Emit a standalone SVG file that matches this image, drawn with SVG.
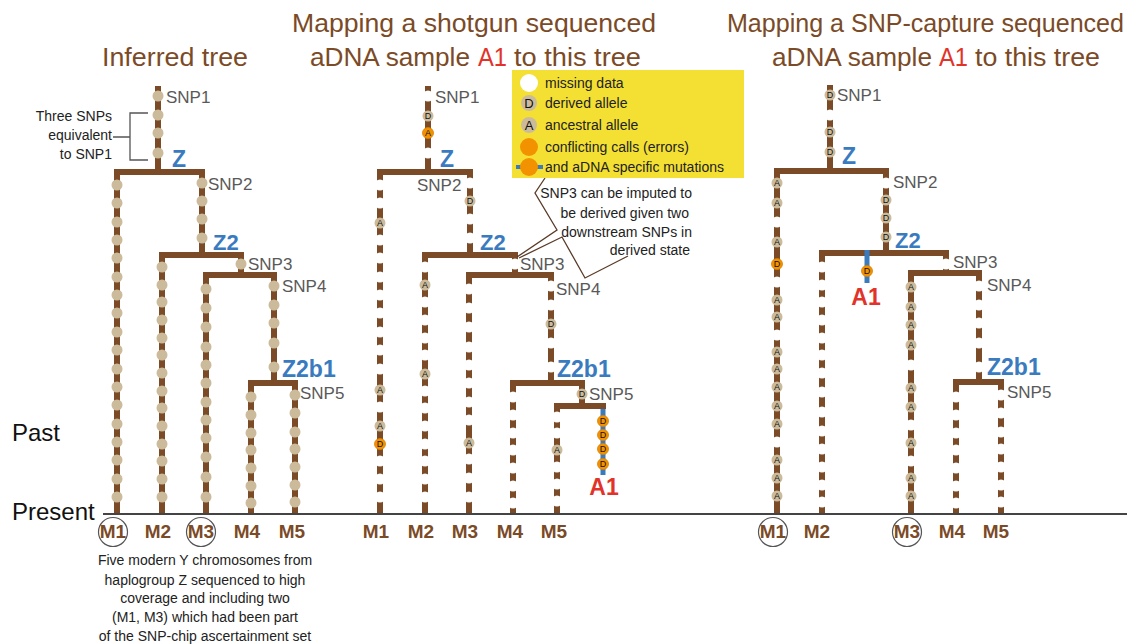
<svg xmlns="http://www.w3.org/2000/svg" width="1144" height="644" viewBox="0 0 1144 644">
<style>
.br{fill:none;stroke:#7b4a26;stroke-width:6}
.t{fill:#cbbb9b}
.w{fill:#fff}
.o{fill:#f39200;stroke:#dc7f00;stroke-width:0.8}
.l{font-family:"Liberation Sans",Arial,sans-serif;font-size:9px;fill:#111;text-anchor:middle}
.snp{font-family:"Liberation Sans",Arial,sans-serif;font-size:17px;fill:#595959}
.hg{font-family:"Liberation Sans",Arial,sans-serif;font-weight:bold;fill:#3a7bbf}
.title{font-family:"Liberation Sans",Arial,sans-serif;font-size:26px;fill:#7b4a26}
.red{fill:#e2332a}
.m{font-family:"Liberation Sans",Arial,sans-serif;font-weight:bold;font-size:19px;fill:#7b4a26;text-anchor:middle}
.note{font-family:"Liberation Sans",Arial,sans-serif;font-size:14px;fill:#222}
.a1{font-family:"Liberation Sans",Arial,sans-serif;font-weight:bold;font-size:23px;fill:#e2332a;text-anchor:middle}
.ring{fill:none;stroke:#555;stroke-width:1.2}
.call{fill:none;stroke:#5a3b28;stroke-width:1.3}
</style>

<g id="titles">
<text class="title" x="102" y="66" textLength="146" lengthAdjust="spacingAndGlyphs">Inferred tree</text>
<text class="title" x="292" y="32" textLength="364" lengthAdjust="spacingAndGlyphs">Mapping a shotgun sequenced</text>
<text class="title" x="310" y="66" textLength="160" lengthAdjust="spacingAndGlyphs">aDNA sample</text>
<text class="title red" x="478" y="66" textLength="29" lengthAdjust="spacingAndGlyphs">A1</text>
<text class="title" x="514" y="66" textLength="127" lengthAdjust="spacingAndGlyphs">to this tree</text>
<text class="title" x="727" y="32" textLength="397" lengthAdjust="spacingAndGlyphs">Mapping a SNP-capture sequenced</text>
<text class="title" x="772" y="66" textLength="160" lengthAdjust="spacingAndGlyphs">aDNA sample</text>
<text class="title red" x="939" y="66" textLength="29" lengthAdjust="spacingAndGlyphs">A1</text>
<text class="title" x="975" y="66" textLength="125" lengthAdjust="spacingAndGlyphs">to this tree</text>
</g>

<g id="connectors">
<path class="br" d="M158,86V172 M114,172H205 M117,172V514 M202,172V255 M159,255H244 M162,255V514 M241,255V275 M203,275H277 M206,275V514 M274,275V383 M248,383H298 M251,383V514 M295,383V514"/>
<path class="br" d="M428,86V172 M377,172H473 M380,172V514 M470,172V255 M422,255H518 M425,255V514 M515,255V275 M466,275H554 M469,275V514 M551,275V383 M510,383H585 M513,383V514 M582,383V406 M557,406V514"/>
<path class="br" d="M830,85V171 M774,171H889 M777,171V514 M886,171V253 M819,253H949 M822,253V514 M946,253V273 M908,273H982 M911,273V514 M979,273V382 M953,382H1004 M956,382V514 M1001,382V514"/>
<line x1="603" y1="406" x2="603" y2="475" stroke="#3a7bbf" stroke-width="5"/>
<line x1="867" y1="250" x2="867" y2="283" stroke="#3a7bbf" stroke-width="5"/>
<path class="br" d="M554,406H606"/>
<line x1="103" y1="514" x2="1127" y2="514" stroke="#444" stroke-width="2"/>
<path class="call" d="M545,178L535,193L557,230L517,257 M519,258L562,237L585,278L628,256"/>
<path d="M148,113H130V160H148 M113,137H130" fill="none" stroke="#555" stroke-width="1.3"/>
</g>

<g id="inferred-tree">
<g class="t">
<circle cx="158" cy="96" r="5.5"/><circle cx="158" cy="115" r="5.5"/><circle cx="158" cy="133" r="5.5"/><circle cx="158" cy="153" r="5.5"/>
<circle cx="117" cy="185" r="5.5"/><circle cx="117" cy="203" r="5.5"/><circle cx="117" cy="222" r="5.5"/><circle cx="117" cy="240" r="5.5"/><circle cx="117" cy="258" r="5.5"/><circle cx="117" cy="277" r="5.5"/><circle cx="117" cy="295" r="5.5"/><circle cx="117" cy="313" r="5.5"/><circle cx="117" cy="332" r="5.5"/><circle cx="117" cy="350" r="5.5"/><circle cx="117" cy="369" r="5.5"/><circle cx="117" cy="387" r="5.5"/><circle cx="117" cy="405" r="5.5"/><circle cx="117" cy="424" r="5.5"/><circle cx="117" cy="442" r="5.5"/><circle cx="117" cy="460" r="5.5"/><circle cx="117" cy="479" r="5.5"/><circle cx="117" cy="497" r="5.5"/>
<circle cx="202" cy="183" r="5.5"/><circle cx="202" cy="201" r="5.5"/><circle cx="202" cy="219" r="5.5"/><circle cx="202" cy="238" r="5.5"/>
<circle cx="162" cy="267" r="5.5"/><circle cx="162" cy="285" r="5.5"/><circle cx="162" cy="302" r="5.5"/><circle cx="162" cy="320" r="5.5"/><circle cx="162" cy="338" r="5.5"/><circle cx="162" cy="355" r="5.5"/><circle cx="162" cy="373" r="5.5"/><circle cx="162" cy="391" r="5.5"/><circle cx="162" cy="408" r="5.5"/><circle cx="162" cy="426" r="5.5"/><circle cx="162" cy="444" r="5.5"/><circle cx="162" cy="461" r="5.5"/><circle cx="162" cy="479" r="5.5"/><circle cx="162" cy="497" r="5.5"/>
<circle cx="241" cy="264" r="5.5"/>
<circle cx="206" cy="289" r="5.5"/><circle cx="206" cy="308" r="5.5"/><circle cx="206" cy="327" r="5.5"/><circle cx="206" cy="347" r="5.5"/><circle cx="206" cy="365" r="5.5"/><circle cx="206" cy="383" r="5.5"/><circle cx="206" cy="402" r="5.5"/><circle cx="206" cy="420" r="5.5"/><circle cx="206" cy="438" r="5.5"/><circle cx="206" cy="457" r="5.5"/><circle cx="206" cy="477" r="5.5"/><circle cx="206" cy="497" r="5.5"/>
<circle cx="274" cy="286" r="5.5"/><circle cx="274" cy="305" r="5.5"/><circle cx="274" cy="323" r="5.5"/><circle cx="274" cy="343" r="5.5"/><circle cx="274" cy="367" r="5.5"/>
<circle cx="251" cy="397" r="5.5"/><circle cx="251" cy="415" r="5.5"/><circle cx="251" cy="433" r="5.5"/><circle cx="251" cy="450" r="5.5"/><circle cx="251" cy="468" r="5.5"/><circle cx="251" cy="486" r="5.5"/><circle cx="251" cy="503" r="5.5"/>
<circle cx="295" cy="395" r="5.5"/><circle cx="295" cy="413" r="5.5"/><circle cx="295" cy="432" r="5.5"/><circle cx="295" cy="449" r="5.5"/><circle cx="295" cy="467" r="5.5"/><circle cx="295" cy="485" r="5.5"/><circle cx="295" cy="502" r="5.5"/>
</g>
<text class="snp" x="166" y="103">SNP1</text>
<text class="snp" x="208" y="190">SNP2</text>
<text class="snp" x="248" y="270">SNP3</text>
<text class="snp" x="282" y="292">SNP4</text>
<text class="snp" x="300" y="399">SNP5</text>
<text class="hg" x="172" y="167" font-size="23">Z</text>
<text class="hg" x="213" y="250" font-size="22">Z2</text>
<text class="hg" x="282" y="377" font-size="23">Z2b1</text>
<text class="note" font-size="13" text-anchor="end"><tspan x="112" y="121">Three SNPs</tspan><tspan x="112" y="140">equivalent</tspan><tspan x="112" y="159">to SNP1</tspan></text>
<text class="m" x="113" y="538">M1</text><text class="m" x="158" y="538">M2</text><text class="m" x="201" y="538">M3</text><text class="m" x="247" y="538">M4</text><text class="m" x="292" y="538">M5</text>
<circle class="ring" cx="113" cy="532" r="14.5"/><circle class="ring" cx="201" cy="532" r="14.5"/>
<text class="note" text-anchor="middle"><tspan x="205" y="565">Five modern Y chromosomes from</tspan><tspan x="205" y="585">haplogroup Z sequenced to high</tspan><tspan x="205" y="603">coverage and including two</tspan><tspan x="205" y="622">(M1, M3) which had been part</tspan><tspan x="205" y="641">of the SNP-chip ascertainment set</tspan></text>
</g>

<g id="time-axis">
<text x="12" y="441" font-family="Liberation Sans, Arial, sans-serif" font-size="24" fill="#111">Past</text>
<text x="12" y="520" font-family="Liberation Sans, Arial, sans-serif" font-size="24" fill="#111">Present</text>
</g>

<g id="shotgun-tree">
<g class="w">
<circle cx="428" cy="96" r="5.5"/><circle cx="428" cy="153" r="5.5"/>
<circle cx="380" cy="185" r="5.5"/><circle cx="380" cy="203" r="5.5"/><circle cx="380" cy="240" r="5.5"/><circle cx="380" cy="258" r="5.5"/><circle cx="380" cy="277" r="5.5"/><circle cx="380" cy="295" r="5.5"/><circle cx="380" cy="313" r="5.5"/><circle cx="380" cy="332" r="5.5"/><circle cx="380" cy="350" r="5.5"/><circle cx="380" cy="369" r="5.5"/><circle cx="380" cy="407" r="5.5"/><circle cx="380" cy="461" r="5.5"/><circle cx="380" cy="479" r="5.5"/><circle cx="380" cy="497" r="5.5"/>
<circle cx="470" cy="183" r="5.5"/><circle cx="470" cy="219" r="5.5"/><circle cx="470" cy="238" r="5.5"/>
<circle cx="425" cy="267" r="5.5"/><circle cx="425" cy="302" r="5.5"/><circle cx="425" cy="320" r="5.5"/><circle cx="425" cy="338" r="5.5"/><circle cx="425" cy="355" r="5.5"/><circle cx="425" cy="391" r="5.5"/><circle cx="425" cy="408" r="5.5"/><circle cx="425" cy="426" r="5.5"/><circle cx="425" cy="444" r="5.5"/><circle cx="425" cy="461" r="5.5"/><circle cx="425" cy="479" r="5.5"/><circle cx="425" cy="497" r="5.5"/>
<circle cx="515" cy="264" r="5.5"/>
<circle cx="469" cy="289" r="5.5"/><circle cx="469" cy="308" r="5.5"/><circle cx="469" cy="327" r="5.5"/><circle cx="469" cy="347" r="5.5"/><circle cx="469" cy="365" r="5.5"/><circle cx="469" cy="383" r="5.5"/><circle cx="469" cy="402" r="5.5"/><circle cx="469" cy="420" r="5.5"/><circle cx="469" cy="459" r="5.5"/><circle cx="469" cy="478" r="5.5"/><circle cx="469" cy="497" r="5.5"/>
<circle cx="551" cy="286" r="5.5"/><circle cx="551" cy="305" r="5.5"/><circle cx="551" cy="343" r="5.5"/><circle cx="551" cy="367" r="5.5"/>
<circle cx="513" cy="397" r="5.5"/><circle cx="513" cy="415" r="5.5"/><circle cx="513" cy="433" r="5.5"/><circle cx="513" cy="450" r="5.5"/><circle cx="513" cy="468" r="5.5"/><circle cx="513" cy="486" r="5.5"/><circle cx="513" cy="503" r="5.5"/>
<circle cx="557" cy="417" r="5.5"/><circle cx="557" cy="433" r="5.5"/><circle cx="557" cy="467" r="5.5"/><circle cx="557" cy="484" r="5.5"/><circle cx="557" cy="501" r="5.5"/>
</g>
<circle class="t" cx="428" cy="116" r="5.5"/><text class="l" x="428" y="119.3">D</text>
<circle class="o" cx="428" cy="133" r="5.5"/><text class="l" x="428" y="136.3">A</text>
<circle class="t" cx="380" cy="223" r="5.5"/><text class="l" x="380" y="226.3">A</text>
<circle class="t" cx="380" cy="390" r="5.5"/><text class="l" x="380" y="393.3">A</text>
<circle class="t" cx="380" cy="426" r="5.5"/><text class="l" x="380" y="429.3">A</text>
<circle class="o" cx="380" cy="444" r="5.5"/><text class="l" x="380" y="447.3">D</text>
<circle class="t" cx="470" cy="201" r="5.5"/><text class="l" x="470" y="204.3">D</text>
<circle class="t" cx="425" cy="285" r="5.5"/><text class="l" x="425" y="288.3">A</text>
<circle class="t" cx="425" cy="374" r="5.5"/><text class="l" x="425" y="377.3">A</text>
<circle class="t" cx="469" cy="443" r="5.5"/><text class="l" x="469" y="446.3">A</text>
<circle class="t" cx="551" cy="324" r="5.5"/><text class="l" x="551" y="327.3">D</text>
<circle class="t" cx="582" cy="394" r="5.5"/><text class="l" x="582" y="397.3">D</text>
<circle class="t" cx="557" cy="450" r="5.5"/><text class="l" x="557" y="453.3">A</text>
<circle class="o" cx="603" cy="421" r="5.5"/><text class="l" x="603" y="424.3">D</text>
<circle class="o" cx="603" cy="435" r="5.5"/><text class="l" x="603" y="438.3">D</text>
<circle class="o" cx="603" cy="449" r="5.5"/><text class="l" x="603" y="452.3">D</text>
<circle class="o" cx="603" cy="464" r="5.5"/><text class="l" x="603" y="467.3">D</text>
<text class="snp" x="435" y="103">SNP1</text>
<text class="snp" x="417" y="191">SNP2</text>
<text class="snp" x="520" y="270">SNP3</text>
<text class="snp" x="556" y="295">SNP4</text>
<text class="snp" x="589" y="400">SNP5</text>
<text class="hg" x="440" y="167" font-size="23">Z</text>
<text class="hg" x="480" y="250" font-size="22">Z2</text>
<text class="hg" x="557" y="377" font-size="23">Z2b1</text>
<text class="a1" x="604" y="495">A1</text>
<text class="m" x="376" y="538">M1</text><text class="m" x="421" y="538">M2</text><text class="m" x="465" y="538">M3</text><text class="m" x="510" y="538">M4</text><text class="m" x="554" y="538">M5</text>
<text class="note" text-anchor="end"><tspan x="692" y="198">SNP3 can be imputed to</tspan><tspan x="689" y="218">be derived given two</tspan><tspan x="692" y="237">downstream SNPs in</tspan><tspan x="690" y="255">derived state</tspan></text>
</g>

<g id="legend">
<rect x="512" y="70" width="232" height="108" fill="#f4e033"/>
<circle cx="529" cy="83" r="9" fill="#fff"/>
<circle cx="529" cy="103" r="8" class="t"/><text x="529" y="107.6" font-family="Liberation Sans, Arial, sans-serif" font-size="13" text-anchor="middle" fill="#111">D</text>
<circle cx="529" cy="125" r="8" class="t"/><text x="529" y="129.6" font-family="Liberation Sans, Arial, sans-serif" font-size="13" text-anchor="middle" fill="#111">A</text>
<circle cx="529" cy="147" r="9" fill="#f39200"/>
<line x1="516" y1="167" x2="543" y2="167" stroke="#3a7bbf" stroke-width="4"/>
<circle cx="529" cy="167" r="9" fill="#f39200"/>
<text class="note" x="545" y="88">missing data</text>
<text class="note" x="545" y="108">derived allele</text>
<text class="note" x="545" y="130">ancestral allele</text>
<text class="note" x="545" y="152">conflicting calls (errors)</text>
<text class="note" x="545" y="172" fill="#4a5cc0">and aDNA specific mutations</text>
</g>

<g id="capture-tree">
<g class="w">
<circle cx="830" cy="115" r="5.5"/>
<circle cx="777" cy="222" r="5.5"/><circle cx="777" cy="282" r="5.5"/><circle cx="777" cy="335" r="5.5"/><circle cx="777" cy="442" r="5.5"/>
<circle cx="886" cy="183" r="5.5"/>
<circle cx="822" cy="267" r="5.5"/><circle cx="822" cy="285" r="5.5"/><circle cx="822" cy="302" r="5.5"/><circle cx="822" cy="320" r="5.5"/><circle cx="822" cy="338" r="5.5"/><circle cx="822" cy="355" r="5.5"/><circle cx="822" cy="373" r="5.5"/><circle cx="822" cy="392" r="5.5"/><circle cx="822" cy="412" r="5.5"/><circle cx="822" cy="431" r="5.5"/><circle cx="822" cy="449" r="5.5"/><circle cx="822" cy="467" r="5.5"/><circle cx="822" cy="485" r="5.5"/><circle cx="822" cy="502" r="5.5"/>
<circle cx="946" cy="264" r="5.5"/>
<circle cx="911" cy="365" r="5.5"/><circle cx="911" cy="425" r="5.5"/><circle cx="911" cy="461" r="5.5"/>
<circle cx="979" cy="286" r="5.5"/><circle cx="979" cy="305" r="5.5"/><circle cx="979" cy="323" r="5.5"/><circle cx="979" cy="343" r="5.5"/><circle cx="979" cy="367" r="5.5"/>
<circle cx="956" cy="397" r="5.5"/><circle cx="956" cy="415" r="5.5"/><circle cx="956" cy="433" r="5.5"/><circle cx="956" cy="450" r="5.5"/><circle cx="956" cy="468" r="5.5"/><circle cx="956" cy="486" r="5.5"/><circle cx="956" cy="503" r="5.5"/>
<circle cx="1001" cy="395" r="5.5"/><circle cx="1001" cy="413" r="5.5"/><circle cx="1001" cy="432" r="5.5"/><circle cx="1001" cy="449" r="5.5"/><circle cx="1001" cy="467" r="5.5"/><circle cx="1001" cy="485" r="5.5"/><circle cx="1001" cy="502" r="5.5"/>
</g>
<circle class="t" cx="830" cy="95" r="5.5"/><text class="l" x="830" y="98.3">D</text>
<circle class="t" cx="830" cy="132" r="5.5"/><text class="l" x="830" y="135.3">D</text>
<circle class="t" cx="830" cy="152" r="5.5"/><text class="l" x="830" y="155.3">D</text>
<circle class="t" cx="886" cy="200" r="5.5"/><text class="l" x="886" y="203.3">D</text>
<circle class="t" cx="886" cy="218" r="5.5"/><text class="l" x="886" y="221.3">D</text>
<circle class="t" cx="886" cy="237" r="5.5"/><text class="l" x="886" y="240.3">D</text>
<circle class="t" cx="777" cy="183" r="5.5"/><text class="l" x="777" y="186.3">A</text>
<circle class="t" cx="777" cy="203" r="5.5"/><text class="l" x="777" y="206.3">A</text>
<circle class="t" cx="777" cy="242" r="5.5"/><text class="l" x="777" y="245.3">A</text>
<circle class="o" cx="777" cy="264" r="5.5"/><text class="l" x="777" y="267.3">D</text>
<circle class="t" cx="777" cy="300" r="5.5"/><text class="l" x="777" y="303.3">A</text>
<circle class="t" cx="777" cy="317" r="5.5"/><text class="l" x="777" y="320.3">A</text>
<circle class="t" cx="777" cy="352" r="5.5"/><text class="l" x="777" y="355.3">A</text>
<circle class="t" cx="777" cy="369" r="5.5"/><text class="l" x="777" y="372.3">A</text>
<circle class="t" cx="777" cy="387" r="5.5"/><text class="l" x="777" y="390.3">A</text>
<circle class="t" cx="777" cy="406" r="5.5"/><text class="l" x="777" y="409.3">A</text>
<circle class="t" cx="777" cy="424" r="5.5"/><text class="l" x="777" y="427.3">A</text>
<circle class="t" cx="777" cy="460" r="5.5"/><text class="l" x="777" y="463.3">A</text>
<circle class="t" cx="777" cy="478" r="5.5"/><text class="l" x="777" y="481.3">A</text>
<circle class="t" cx="777" cy="496" r="5.5"/><text class="l" x="777" y="499.3">A</text>
<circle class="t" cx="911" cy="287" r="5.5"/><text class="l" x="911" y="290.3">A</text>
<circle class="t" cx="911" cy="307" r="5.5"/><text class="l" x="911" y="310.3">A</text>
<circle class="t" cx="911" cy="325" r="5.5"/><text class="l" x="911" y="328.3">A</text>
<circle class="t" cx="911" cy="345" r="5.5"/><text class="l" x="911" y="348.3">A</text>
<circle class="t" cx="911" cy="388" r="5.5"/><text class="l" x="911" y="391.3">A</text>
<circle class="t" cx="911" cy="407" r="5.5"/><text class="l" x="911" y="410.3">A</text>
<circle class="t" cx="911" cy="443" r="5.5"/><text class="l" x="911" y="446.3">A</text>
<circle class="t" cx="911" cy="478" r="5.5"/><text class="l" x="911" y="481.3">A</text>
<circle class="t" cx="911" cy="496" r="5.5"/><text class="l" x="911" y="499.3">A</text>
<circle class="o" cx="867" cy="271" r="5.5"/><text class="l" x="867" y="274.3">D</text>
<text class="snp" x="837" y="101">SNP1</text>
<text class="snp" x="893" y="188">SNP2</text>
<text class="snp" x="953" y="268">SNP3</text>
<text class="snp" x="987" y="291">SNP4</text>
<text class="snp" x="1007" y="398">SNP5</text>
<text class="hg" x="842" y="164" font-size="23">Z</text>
<text class="hg" x="895" y="248" font-size="22">Z2</text>
<text class="hg" x="987" y="375" font-size="23">Z2b1</text>
<text class="a1" x="866" y="305">A1</text>
<text class="m" x="773" y="538">M1</text><text class="m" x="817" y="538">M2</text><text class="m" x="907" y="538">M3</text><text class="m" x="952" y="538">M4</text><text class="m" x="996" y="538">M5</text>
<circle class="ring" cx="773" cy="532" r="14.5"/><circle class="ring" cx="907" cy="532" r="14.5"/>
</g>
</svg>
